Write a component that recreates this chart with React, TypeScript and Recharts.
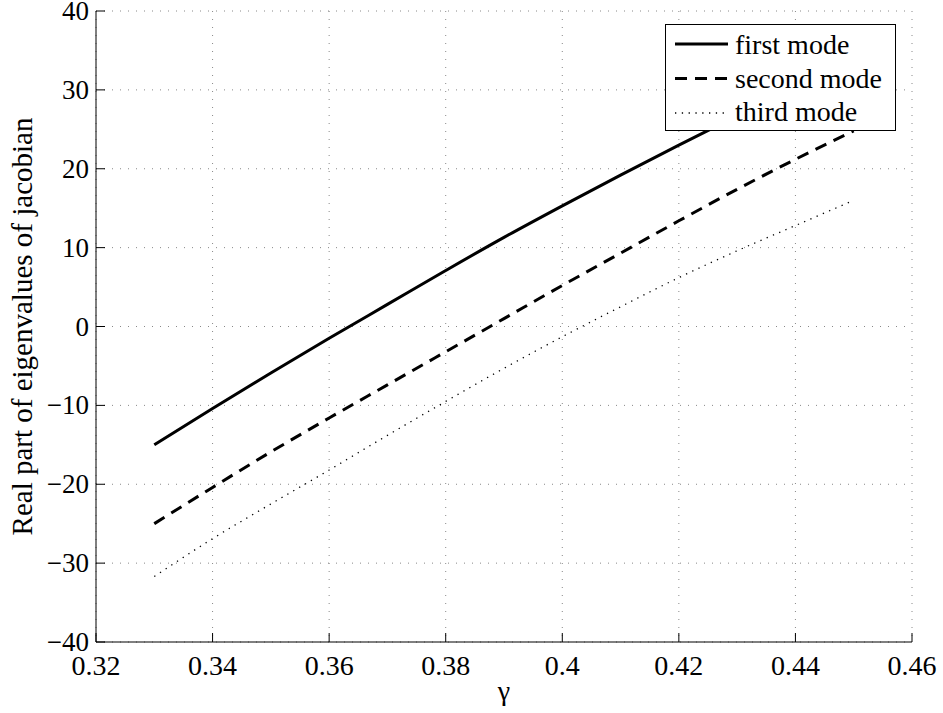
import React from 'react'
import { LineChart, Line, XAxis, YAxis, CartesianGrid } from 'recharts'

const gamma = [0.33, 0.34, 0.35, 0.36, 0.37, 0.38, 0.39, 0.4, 0.41, 0.42, 0.43, 0.44, 0.45]
const firstMode = [-15, -10.4, -5.9, -1.5, 2.8, 7.1, 11.3, 15.3, 19.2, 23.0, 26.7, 30.3, 33.9]
const secondMode = [-25, -20.4, -15.9, -11.6, -7.4, -3.2, 1.0, 5.2, 9.3, 13.4, 17.4, 21.2, 24.8]
const thirdMode = [-31.7, -26.9, -22.5, -18.2, -13.8, -9.5, -5.3, -1.3, 2.5, 6.2, 9.6, 12.8, 16.0]

const xTicks = [0.32, 0.34, 0.36, 0.38, 0.4, 0.42, 0.44, 0.46]
const yTicks = [-40, -30, -20, -10, 0, 10, 20, 30, 40]

const series = [
  { key: 'first', name: 'first mode', width: 3, dash: undefined as string | undefined },
  { key: 'second', name: 'second mode', width: 3, dash: '12 8' },
  { key: 'third', name: 'third mode', width: 1.3, dash: '1.3 5.5' },
]

const data = gamma.map((g, i) => ({
  g,
  first: firstMode[i],
  second: secondMode[i],
  third: thirdMode[i],
}))

const FONT = 'Liberation Serif, DejaVu Serif, serif'
const textStyle = { fontFamily: FONT, fontSize: 28 }
const TICK = 9

const fmtX = (v: number) => String(v)
const fmtY = (v: number) => (v < 0 ? '\u2212' + Math.abs(v) : String(v))

function BottomTick({ x, y, payload }: any) {
  return (
    <g>
      <line x1={x} x2={x} y1={y} y2={y - TICK} stroke="#000" strokeWidth={1} />
      <text x={x} y={y + 33} textAnchor="middle" style={textStyle} fill="#000">
        {fmtX(payload.value)}
      </text>
    </g>
  )
}

function TopTick({ x, y }: any) {
  return <line x1={x} x2={x} y1={y} y2={y + TICK} stroke="#000" strokeWidth={1} />
}

function LeftTick({ x, y, payload }: any) {
  return (
    <g>
      <line x1={x} x2={x + TICK} y1={y} y2={y} stroke="#000" strokeWidth={1} />
      <text x={x - 7} y={y + 9} textAnchor="end" style={{ ...textStyle, fontSize: 27 }} fill="#000">
        {fmtY(payload.value)}
      </text>
    </g>
  )
}

function RightTick({ x, y }: any) {
  return <line x1={x} x2={x - TICK} y1={y} y2={y} stroke="#000" strokeWidth={1} />
}

function YLabel({ viewBox }: any) {
  const cx = 32
  const cy = viewBox.y + viewBox.height / 2
  return (
    <text
      x={cx}
      y={cy}
      transform={`rotate(-90 ${cx} ${cy})`}
      textAnchor="middle"
      style={{ ...textStyle, fontSize: 29 }}
      fill="#000"
    >
      Real part of eigenvalues of jacobian
    </text>
  )
}

function XLabel({ viewBox }: any) {
  const cx = viewBox.x + viewBox.width / 2
  return (
    <text x={cx} y={700} textAnchor="middle" style={textStyle} fill="#000">
      γ
    </text>
  )
}

function LegendBox() {
  return (
    <svg
      width={231}
      height={107}
      style={{ position: 'absolute', left: 665, top: 24, background: '#fff', display: 'block' }}
    >
      <rect x={0.5} y={0.5} width={230} height={106} fill="#fff" stroke="#000" strokeWidth={1} />
      {series.map((s, i) => (
        <g key={s.key}>
          <line
            x1={10}
            x2={63}
            y1={20 + i * 34.5}
            y2={20 + i * 34.5}
            stroke="#000"
            strokeWidth={s.width}
            strokeDasharray={s.dash}
          />
          <text x={70} y={30 + i * 33.5} style={textStyle} fill="#000">
            {s.name}
          </text>
        </g>
      ))}
    </svg>
  )
}

export default function App() {
  return (
    <div style={{ position: 'absolute', left: 0, top: 0, width: 943, height: 713, background: '#fff' }}>
      <LineChart width={943} height={713} data={data} margin={{ top: 11, right: 31, left: 0, bottom: 0 }}>
        <CartesianGrid stroke="#888" strokeDasharray="1 7" />
        <XAxis
          dataKey="g"
          type="number"
          domain={[0.32, 0.46]}
          ticks={xTicks}
          allowDataOverflow
          height={71}
          tickSize={0}
          tickMargin={0}
          tickLine={false}
          axisLine={{ stroke: '#000', strokeWidth: 1 }}
          tick={<BottomTick />}
          interval={0}
          label={<XLabel />}
        />
        <XAxis
          xAxisId="top"
          orientation="top"
          dataKey="g"
          type="number"
          domain={[0.32, 0.46]}
          ticks={xTicks}
          allowDataOverflow
          height={0}
          tickSize={0}
          tickMargin={0}
          tickLine={false}
          axisLine={{ stroke: '#000', strokeWidth: 1 }}
          tick={<TopTick />}
          interval={0}
        />
        <YAxis
          type="number"
          domain={[-40, 40]}
          ticks={yTicks}
          allowDataOverflow
          width={96}
          tickSize={0}
          tickMargin={0}
          tickLine={false}
          axisLine={{ stroke: '#000', strokeWidth: 1 }}
          tick={<LeftTick />}
          interval={0}
          label={<YLabel />}
        />
        <YAxis
          yAxisId="right"
          orientation="right"
          type="number"
          domain={[-40, 40]}
          ticks={yTicks}
          allowDataOverflow
          width={0}
          tickSize={0}
          tickMargin={0}
          tickLine={false}
          axisLine={{ stroke: '#000', strokeWidth: 1 }}
          tick={<RightTick />}
          interval={0}
        />
        {series.map((s) => (
          <Line
            key={s.key}
            dataKey={s.key}
            name={s.name}
            type="monotone"
            stroke="#000"
            strokeWidth={s.width}
            strokeDasharray={s.dash}
            dot={false}
            activeDot={false}
            isAnimationActive={false}
          />
        ))}
      </LineChart>
      <LegendBox />
    </div>
  )
}
